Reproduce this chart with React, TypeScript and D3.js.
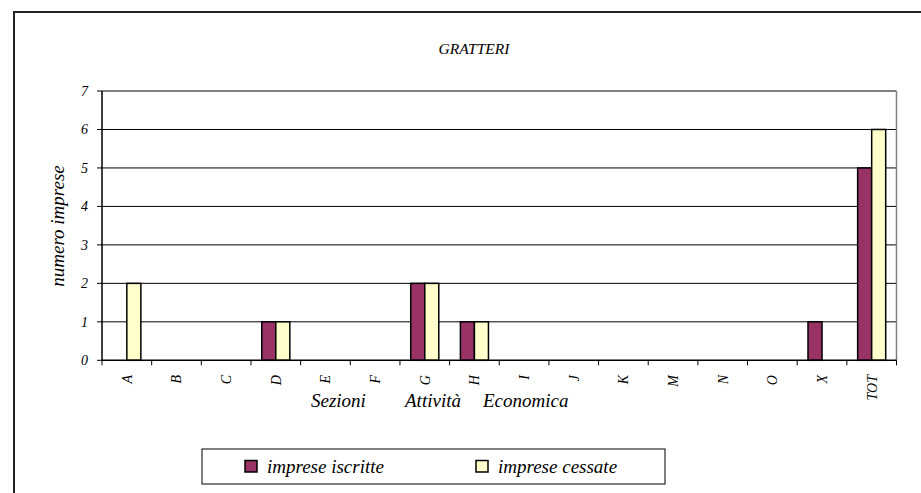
import React from "react";
import * as d3 from "d3";

const categories = ["A", "B", "C", "D", "E", "F", "G", "H", "I", "J", "K", "M", "N", "O", "X", "TOT"];
const iscritte = [0, 0, 0, 1, 0, 0, 2, 1, 0, 0, 0, 0, 0, 0, 1, 5];
const cessate = [2, 0, 0, 1, 0, 0, 2, 1, 0, 0, 0, 0, 0, 0, 0, 6];
const seriesNames = ["imprese iscritte", "imprese cessate"];
const seriesColors = ["#993366", "#FFFFCC"];
const yTicks = [0, 1, 2, 3, 4, 5, 6, 7];
const title = "GRATTERI";
const yTitle = "numero imprese";
const xTitleWords = ["Sezioni", "Attività", "Economica"];

const W = 921;
const H = 493;
const FONT = "Liberation Serif, Times New Roman, DejaVu Serif, serif";

export default function App() {
  const left = 102;
  const right = 896.5;
  const top = 91;
  const bottom = 360.3;

  const x0 = d3.scaleBand<string>().domain(categories).range([left, right]).padding(0);
  const x1 = d3
    .scaleBand<string>()
    .domain(seriesNames)
    .range([0, x0.bandwidth()])
    .paddingInner(0)
    .paddingOuter(0.77);
  const y = d3.scaleLinear().domain([0, 7]).range([bottom, top]);

  const series = [iscritte, cessate];
  const boundaries = categories.map((c) => x0(c) as number).concat([right]);
  const ts = { fontFamily: FONT, fontStyle: "italic" as const };

  return (
    <svg
      width={W}
      height={H}
      style={{ position: "absolute", left: 0, top: 0, background: "#fff" }}
    >
      <rect x={0} y={0} width={W} height={H} fill="#fff" />
      {/* outer chart frame */}
      <rect x={14} y={12} width={W + 20} height={H + 20} fill="none" stroke="#222" strokeWidth={2} />

      {/* title */}
      <text x={474} y={54} textAnchor="middle" fontSize={15.5} style={ts} fill="#000">
        {title}
      </text>

      {/* gridlines */}
      {yTicks.slice(1).map((t) => (
        <line key={"g" + t} x1={left} x2={right} y1={y(t)} y2={y(t)} stroke="#000" strokeWidth={1} />
      ))}
      {/* right border of plot area */}
      <line x1={right} x2={right} y1={top} y2={bottom} stroke="#808080" strokeWidth={1.5} />

      {/* bars */}
      {categories.map((c, i) =>
        series.map((s, si) =>
          s[i] > 0 ? (
            <rect
              key={c + si}
              x={(x0(c) as number) + (x1(seriesNames[si]) as number)}
              y={y(s[i])}
              width={x1.bandwidth()}
              height={y(0) - y(s[i])}
              fill={seriesColors[si]}
              stroke="#000"
              strokeWidth={1.5}
            />
          ) : null
        )
      )}

      {/* y axis */}
      <line x1={left} x2={left} y1={top} y2={bottom} stroke="#000" strokeWidth={1.5} />
      {yTicks.map((t) => (
        <g key={"y" + t}>
          <line x1={left - 5} x2={left} y1={y(t)} y2={y(t)} stroke="#000" strokeWidth={1} />
          <text x={88} y={y(t)} dy="0.35em" textAnchor="end" fontSize={14} style={ts} fill="#000">
            {t}
          </text>
        </g>
      ))}

      {/* x axis */}
      <line x1={left} x2={right} y1={bottom} y2={bottom} stroke="#000" strokeWidth={1.5} />
      {boundaries.map((b, i) => (
        <line key={"xt" + i} x1={b} x2={b} y1={bottom} y2={bottom + 5} stroke="#000" strokeWidth={1} />
      ))}
      {categories.map((c) => {
        const cx = (x0(c) as number) + x0.bandwidth() / 2;
        return (
          <text
            key={"xl" + c}
            transform={`translate(${cx},375) rotate(-90)`}
            dy="0.35em"
            textAnchor="end"
            fontSize={14}
            style={ts}
            fill="#000"
          >
            {c}
          </text>
        );
      })}

      {/* x axis title */}
      <text y={407} fontSize={19} style={ts} fill="#000">
        <tspan x={311}>{xTitleWords[0]}</tspan>
        <tspan x={405}>{xTitleWords[1]}</tspan>
        <tspan x={483}>{xTitleWords[2]}</tspan>
      </text>

      {/* y axis title */}
      <text transform={`translate(64,226) rotate(-90)`} textAnchor="middle" fontSize={19} style={ts} fill="#000">
        {yTitle}
      </text>

      {/* legend */}
      <rect x={202} y={449} width={463} height={35} fill="#fff" stroke="#000" strokeWidth={1} />
      {seriesNames.map((n, i) => {
        const lx = i === 0 ? 245 : 476;
        return (
          <g key={"lg" + n}>
            <rect x={lx} y={460.5} width={12} height={11.5} fill={seriesColors[i]} stroke="#000" strokeWidth={1.5} />
            <text x={lx + 22} y={473} fontSize={19} style={ts} fill="#000">
              {n}
            </text>
          </g>
        );
      })}
    </svg>
  );
}
